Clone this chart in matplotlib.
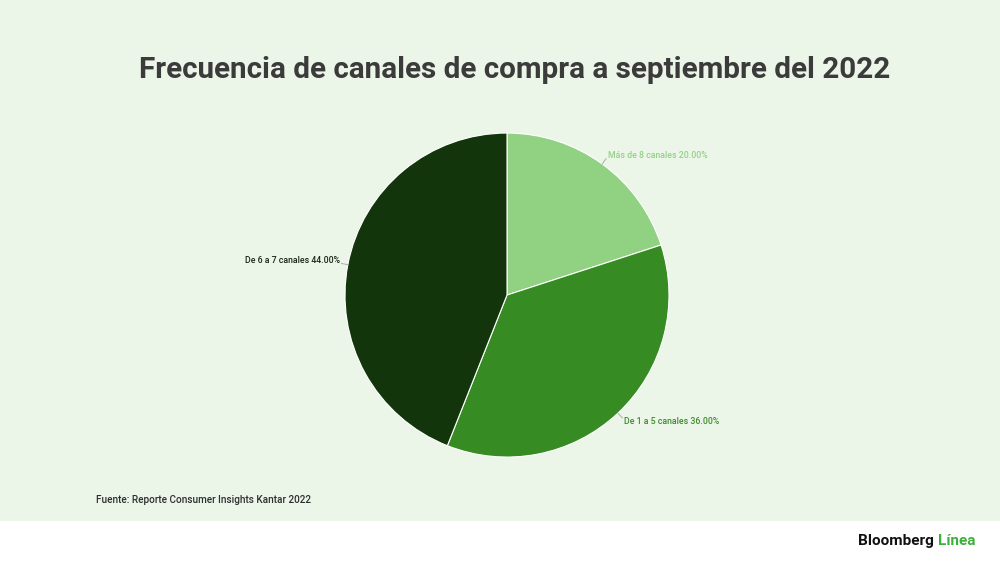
import numpy as np
import matplotlib
matplotlib.use("Agg")
import matplotlib.pyplot as plt
from matplotlib.patches import Rectangle

# datos del reporte
categorias = ["Más de 8 canales", "De 1 a 5 canales", "De 6 a 7 canales"]
porcentajes = [20.0, 36.0, 44.0]
colores = ["#91d282", "#368c22", "#13350b"]
colores_texto = ["#96d188", "#3b8d2a", "#1c2418"]

titulo = "Frecuencia de canales de compra a septiembre del 2022"
fuente = "Fuente: Reporte Consumer Insights Kantar 2022"

plt.rcParams['font.family'] = ['Roboto', 'DejaVu Sans']

fig = plt.figure(figsize=(10, 5.62), dpi=100)
fig.patch.set_facecolor("white")
fig.patches.append(Rectangle((0, 1 - 521 / 562), 1, 521 / 562, transform=fig.transFigure,
                             facecolor="#ebf5e8", edgecolor="none", zorder=-5))

ax = fig.add_axes([0.507 - 0.162, 0.475 - 162 / 562, 0.324, 324 / 562])
ax.set_zorder(3)
wedges, _ = ax.pie(porcentajes, colors=colores, startangle=90, counterclock=False,
                   radius=1.0, wedgeprops=dict(edgecolor="white", linewidth=0.8))
ax.set_xlim(-1, 1)
ax.set_ylim(-1, 1)
ax.set_aspect("equal")
ax.axis("off")

for w, cat, p, ct in zip(wedges, categorias, porcentajes, colores_texto):
    ang = np.deg2rad((w.theta1 + w.theta2) / 2)
    x, y = np.cos(ang), np.sin(ang)
    xt, yt = 1.04 * x, 1.04 * y
    ha = "left" if x > 0 else "right"
    off = 0.01 if x > 0 else -0.01
    ax.plot([x, xt], [y, yt], color="#a8b0a6", lw=0.7, clip_on=False)
    ax.text(xt + off, yt + 0.02 * np.sign(y), f"{cat} {p:.2f}%", ha=ha, va="center",
            fontsize=6.3, color=ct, fontweight="medium")

fig.text(0.515, 0.875, titulo, ha="center", va="center", fontsize=21.3,
         fontweight="bold", color="#3b3b3b")
fig.text(0.096, 0.11, fuente, ha="left", va="center", fontsize=7.2,
         color="#2e2e2e", fontweight="medium")

t = fig.text(0.858, 0.037, "Bloomberg ", ha="left", va="center", fontsize=11,
             fontweight="bold", color="#111111")
fig.canvas.draw()
bb = t.get_window_extent()
fig.text(bb.x1 / fig.bbox.width, 0.037, "Línea", ha="left", va="center", fontsize=11,
         fontweight="bold", color="#3cb03a")

fig.savefig("out.png", dpi=100, facecolor=fig.get_facecolor())
